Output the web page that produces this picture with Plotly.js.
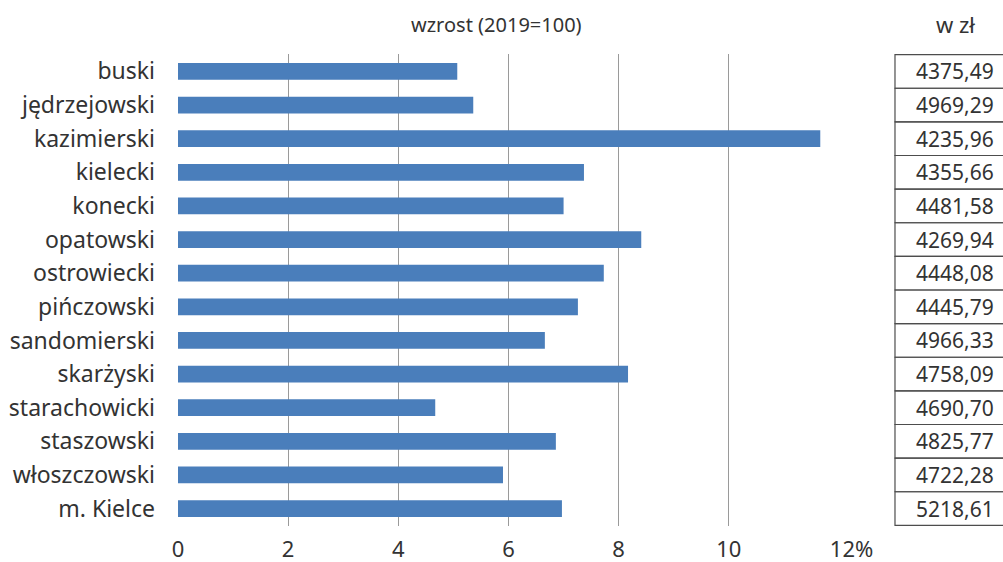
<!DOCTYPE html>
<html>
<head>
<meta charset="utf-8">
<script src="https://cdn.plot.ly/plotly-3.0.1.min.js"></script>
<style>html,body{margin:0;padding:0;background:#fff;}#chart{width:1003px;height:562px;}</style>
</head>
<body>
<div id="chart"></div>
<script>
const categories = ["buski","jędrzejowski","kazimierski","kielecki","konecki","opatowski","ostrowiecki","pińczowski","sandomierski","skarżyski","starachowicki","staszowski","włoszczowski","m. Kielce"];
const growth = [5.07, 5.36, 11.66, 7.37, 7.0, 8.41, 7.73, 7.26, 6.66, 8.17, 4.67, 6.86, 5.9, 6.97];
const wages = ["4375,49","4969,29","4235,96","4355,66","4481,58","4269,94","4448,08","4445,79","4966,33","4758,09","4690,70","4825,77","4722,28","5218,61"];
const tickValues = [0, 2, 4, 6, 8, 10, 12];
const tickLabels = ["0", "2", "4", "6", "8", "10", "\u2007\u200712%"];

const FONT = "Noto Sans, sans-serif";
const TXT = "#333333";

const shapes = [];
const annotations = [];
categories.forEach((c, i) => {
  shapes.push({type: "rect", xref: "paper", yref: "y", x0: 1.0847, x1: 1.25, y0: i - 0.5, y1: i + 0.5,
    line: {color: "#4d4d4d", width: 1.2}, fillcolor: "rgba(0,0,0,0)", layer: "above"});
  annotations.push({xref: "paper", yref: "y", x: 1.1755, y: c, text: wages[i], showarrow: false,
    xanchor: "center", yanchor: "middle", font: {family: FONT, size: 21, color: TXT}});
});
annotations.push({xref: "paper", yref: "paper", x: 0.4826, y: 1.063, text: "wzrost (2019=100)", showarrow: false,
  xanchor: "center", yanchor: "middle", font: {family: FONT, size: 20, color: TXT}});
annotations.push({xref: "paper", yref: "paper", x: 1.1755, y: 1.063, text: "w zł", showarrow: false,
  xanchor: "center", yanchor: "middle", font: {family: FONT, size: 22, color: TXT}});

const trace = {
  type: "bar", orientation: "h", x: growth, y: categories,
  marker: {color: "#4a7ebb"}, width: 0.5, hoverinfo: "skip"
};

const layout = {
  width: 1003, height: 562,
  margin: {l: 178, r: 164, t: 54, b: 36},
  paper_bgcolor: "#ffffff", plot_bgcolor: "#ffffff",
  showlegend: false,
  font: {family: FONT, color: TXT},
  xaxis: {
    range: [0, 12], tickvals: tickValues, ticktext: tickLabels,
    showgrid: true, gridcolor: "#9a9a9a", gridwidth: 1,
    zeroline: true, zerolinecolor: "#ffffff", zerolinewidth: 1,
    showline: false, ticks: "", tickfont: {family: FONT, size: 22, color: TXT},
    ticklabelstandoff: 8, fixedrange: true
  },
  yaxis: {
    type: "category", autorange: "reversed", range: [13.5, -0.5],
    showgrid: false, zeroline: false, showline: false, ticks: "",
    tickfont: {family: FONT, size: 23, color: TXT}, ticklabelstandoff: 22, fixedrange: true
  },
  shapes: shapes,
  annotations: annotations
};

Plotly.newPlot("chart", [trace], layout, {displayModeBar: false, staticPlot: true});
</script>
</body>
</html>
